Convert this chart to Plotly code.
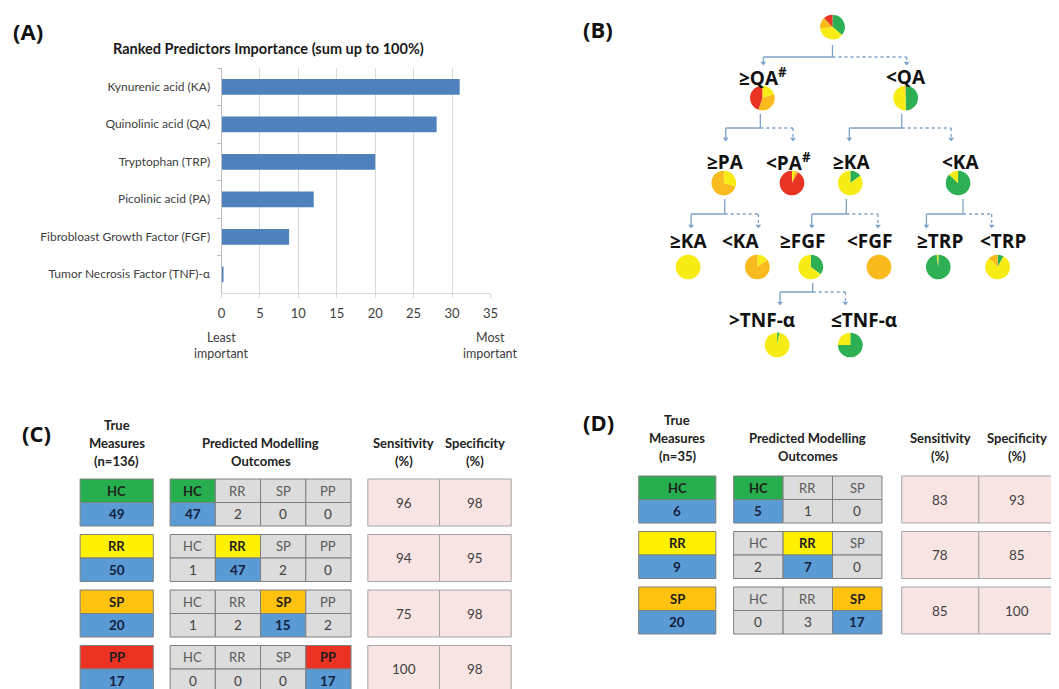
import plotly.graph_objects as go

W, H = 1059, 689

# ---------------- DATA ----------------
predictors = ["Kynurenic acid (KA)", "Quinolinic acid (QA)", "Tryptophan (TRP)",
              "Picolinic acid (PA)", "Fibrobloast Growth Factor (FGF)",
              "Tumor Necrosis Factor (TNF)-α"]
importance = [31, 28, 20, 12, 8.8, 0.2]
x_ticks = [0, 5, 10, 15, 20, 25, 30, 35]

classes = ["HC", "RR", "SP", "PP"]

# tree nodes: label, class fractions (HC, RR, SP, PP)
tree_labels = ["", "≥QA<sup>#</sup>", "<QA", "≥PA", "<PA<sup>#</sup>", "≥KA", "<KA",
               "≥KA", "<KA", "≥FGF", "<FGF", "≥TRP", "<TRP", ">TNF-α", "≤TNF-α"]
tree_fractions = [
    [36, 37, 15, 12],
    [0, 20, 35, 45],
    [50, 48, 2, 0],
    [0, 30, 70, 0],
    [0, 4, 4, 92],
    [15, 85, 0, 0],
    [87, 13, 0, 0],
    [0, 100, 0, 0],
    [0, 15, 85, 0],
    [35, 65, 0, 0],
    [0, 0, 100, 0],
    [98, 2, 0, 0],
    [8, 80, 12, 0],
    [3, 97, 0, 0],
    [75, 25, 0, 0],
]
tree_parent = [None, 0, 0, 1, 1, 2, 2, 3, 3, 5, 5, 6, 6, 9, 9]

c_true = [49, 50, 20, 17]
c_conf = [[47, 2, 0, 0], [1, 47, 2, 0], [1, 2, 15, 2], [0, 0, 0, 17]]
c_sens = [96, 94, 75, 100]
c_spec = [98, 95, 98, 98]
c_n = 136

d_true = [6, 9, 20]
d_conf = [[5, 1, 0], [2, 7, 0], [0, 3, 17]]
d_sens = [83, 78, 85]
d_spec = [93, 85, 100]
d_n = 35

# ---------------- STYLE / LAYOUT ----------------
FONT = "Lato"
class_colors = {"HC": "#27AE4F", "RR": "#FFF100", "SP": "#FFC20E", "PP": "#EC3323"}
pie_colors = ["#2DB053", "#F7EC13", "#F8BA1C", "#E93424"]
BLUE = "#5B9BD5"
GREY = "#DCDCDC"
PINK = "#F9E4E4"
EDGE = "#7F7F7F"
LINK = "#7EA2C9"

# tree layout in pixel space: (label x, label y, pie x, pie y)
node_pos = [
    (None, None, 838, 27),
    (768, 77, 767, 98), (912, 77, 912, 98),
    (730, 162, 728, 183), (793, 162, 797, 183), (857, 162, 856, 183), (967, 162, 965, 183),
    (692, 241, 692, 267), (745, 241, 762, 267), (808, 241, 816, 267), (875, 241, 885, 267),
    (947, 241, 945, 267), (1010, 241, 1005, 267),
    (767, 320, 782, 345), (870, 320, 856, 345),
]
# connectors per parent: stem x, stem top, bar y, drop end y, left drop x, right drop x
connectors = {
    0: (838, 45, 57, 64, 768, 913),
    1: (765, 114, 128, 140, 730, 798),
    2: (908, 114, 128, 140, 855, 958),
    3: (729, 199, 214, 227, 695, 763),
    5: (852, 199, 214, 227, 817, 884),
    6: (970, 199, 214, 227, 933, 999),
    9: (818, 283, 292, 304, 785, 851),
}
PIE_D = 25

fig = go.Figure()

# ---- Panel A: bar chart ----
fig.add_trace(go.Bar(
    x=importance, y=predictors, orientation="h",
    marker=dict(color="#4F81BD", line=dict(width=0)),
    width=0.42, xaxis="x", yaxis="y", showlegend=False, hoverinfo="x+y"))

# ---- Panel B: pies ----
for i, fr in enumerate(tree_fractions):
    _, _, cx, cy = node_pos[i]
    r = PIE_D / 2
    fig.add_trace(go.Pie(
        values=fr, labels=classes, sort=False, direction="clockwise", rotation=0,
        marker=dict(colors=pie_colors, line=dict(width=0)),
        textinfo="none", showlegend=False, hoverinfo="label+percent",
        domain=dict(x=[(cx - r) / W, (cx + r) / W], y=[1 - (cy + r) / H, 1 - (cy - r) / H])))

shapes = []
annotations = []


def px_line(x0, y0, x1, y1, color=LINK, width=1.3, dash="solid"):
    shapes.append(dict(type="line", xref="x2", yref="y2", x0=x0, y0=y0, x1=x1, y1=y1,
                       line=dict(color=color, width=width, dash=dash), layer="above"))


def px_rect(x0, y0, x1, y1, fill, edge=EDGE, width=1):
    shapes.append(dict(type="rect", xref="x2", yref="y2", x0=x0, y0=y0, x1=x1, y1=y1,
                       fillcolor=fill, line=dict(color=edge, width=width), layer="above"))


def px_text(x, y, text, size=12, color="#222222", bold=False, xanchor="center", family=FONT):
    if bold:
        text = "<b>" + text + "</b>"
    annotations.append(dict(xref="x2", yref="y2", x=x, y=y, text=text, showarrow=False,
                            xanchor=xanchor, yanchor="middle",
                            font=dict(family=family, size=size, color=color)))


# tree labels
for i, lab in enumerate(tree_labels):
    lx, ly, _, _ = node_pos[i]
    if lx is not None:
        px_text(lx, ly, lab, size=19, color="#111111", bold=True, family="Open Sans")

# connectors
arrow_x, arrow_y = [], []
for p, (sx, sy0, by, dy, lx, rx) in connectors.items():
    px_line(sx, sy0, sx, by)
    px_line(lx, by, sx, by)
    px_line(sx, by, rx, by, dash="dot")
    px_line(lx, by, lx, dy - 2)
    px_line(rx, by, rx, dy - 2, dash="dot")
    arrow_x += [lx, rx]
    arrow_y += [dy - 1, dy - 1]

fig.add_trace(go.Scatter(x=arrow_x, y=arrow_y, mode="markers", xaxis="x2", yaxis="y2",
                         marker=dict(symbol="triangle-down", size=5, color=LINK),
                         showlegend=False, hoverinfo="skip"))

HEAD = 13


# ---- Panels C & D: confusion tables ----
def draw_table(true_counts, conf, sens, spec, n, org):
    k = len(true_counts)
    tx0, tx1 = org["true_x"]
    px0, pcw = org["pred_x0"], org["pred_w"]
    sx0, sw = org["sens_x0"], org["sens_w"]
    top0, pitch, half = org["top"], org["pitch"], org["half"]
    hy = org["head_y"]
    # headers
    tcx = (tx0 + tx1) / 2
    px_text(tcx, hy - 18, "True", size=HEAD, bold=True)
    px_text(tcx, hy, "Measures", size=HEAD, bold=True)
    px_text(tcx, hy + 18, "(n=%d)" % n, size=HEAD, bold=True)
    pcx = px0 + pcw * k / 2
    px_text(pcx, hy, "Predicted Modelling", size=HEAD, bold=True)
    px_text(pcx, hy + 18, "Outcomes", size=HEAD, bold=True)
    px_text(sx0 + sw / 2, hy, "Sensitivity", size=HEAD, bold=True)
    px_text(sx0 + sw / 2, hy + 18, "(%)", size=HEAD, bold=True)
    px_text(sx0 + sw * 1.5, hy, "Specificity", size=HEAD, bold=True)
    px_text(sx0 + sw * 1.5, hy + 18, "(%)", size=HEAD, bold=True)
    for i in range(k):
        y0 = top0 + i * pitch
        ym, y1 = y0 + half, y0 + 2 * half
        cls = classes[i]
        # true measure box
        px_rect(tx0, y0, tx1, ym, class_colors[cls])
        px_rect(tx0, ym, tx1, y1, BLUE)
        px_text(tcx, (y0 + ym) / 2, cls, size=13, bold=True, color="#1E1E1E")
        px_text(tcx, (ym + y1) / 2, str(true_counts[i]), size=13.5, bold=True, color="#14213D")
        # predicted matrix
        for j in range(k):
            cx0, cx1 = px0 + j * pcw, px0 + (j + 1) * pcw
            diag = (i == j)
            px_rect(cx0, y0, cx1, ym, class_colors[classes[j]] if diag else GREY)
            px_rect(cx0, ym, cx1, y1, BLUE if diag else GREY)
            px_text((cx0 + cx1) / 2, (y0 + ym) / 2, classes[j], size=13, bold=diag,
                    color="#1E1E1E" if diag else "#595959")
            px_text((cx0 + cx1) / 2, (ym + y1) / 2, str(conf[i][j]), size=13.5, bold=diag,
                    color="#14213D" if diag else "#404040")
        # sensitivity / specificity
        px_rect(sx0, y0, sx0 + sw, y1, PINK, edge="#A6A6A6")
        px_rect(sx0 + sw, y0, sx0 + 2 * sw, y1, PINK, edge="#A6A6A6")
        px_text(sx0 + sw / 2, (y0 + y1) / 2, str(sens[i]), size=13.5, color="#404040")
        px_text(sx0 + sw * 1.5, (y0 + y1) / 2, str(spec[i]), size=13.5, color="#404040")


draw_table(c_true, c_conf, c_sens, c_spec, c_n,
           dict(true_x=(77, 151), pred_x0=168, pred_w=45.75, sens_x0=368, sens_w=72.5,
                top=479, pitch=55.5, half=23.5, head_y=443))
draw_table(d_true, d_conf, d_sens, d_spec, d_n,
           dict(true_x=(642, 720), pred_x0=738, pred_w=50, sens_x0=908, sens_w=78,
                top=476, pitch=55.5, half=23.5, head_y=438))

# panel letters
for lab, x, y in [("(A)", 7, 31), ("(B)", 584, 29), ("(C)", 16, 433), ("(D)", 584, 422)]:
    px_text(x, y, lab, size=22, bold=True, xanchor="left", color="#111111", family="Open Sans")

# panel A title and axis captions
px_text(268, 48, "Ranked Predictors Importance (sum up to 100%)", size=14.5, bold=True,
        color="#1a1a1a")
for x, t in [(220, "Least"), (492, "Most")]:
    px_text(x, 337, t, size=12.5, color="#404040")
    px_text(x, 353, "important", size=12.5, color="#404040")

fig.update_layout(
    width=W, height=H, margin=dict(l=0, r=0, t=0, b=0),
    paper_bgcolor="white", plot_bgcolor="rgba(0,0,0,0)",
    font=dict(family=FONT, size=12, color="#404040"),
    xaxis=dict(domain=[220 / W, 492 / W], range=[0, 35], tickvals=x_ticks, anchor="y",
               showgrid=True, gridcolor="#D9D9D9", gridwidth=1, zeroline=False,
               showline=True, linecolor="#D9D9D9", ticks="outside", ticklen=4,
               tickcolor="#D9D9D9", ticklabelstandoff=4,
               tickfont=dict(size=13, color="#404040")),
    yaxis=dict(domain=[1 - 293 / H, 1 - 68 / H], autorange="reversed", anchor="x",
               type="category", showline=True, linecolor="#BFBFBF", ticks="outside",
               tickson="boundaries", ticklen=4, tickcolor="#BFBFBF",
               ticklabelstandoff=8, tickfont=dict(size=12, color="#404040"), showgrid=False),
    xaxis2=dict(domain=[0, 1], range=[0, W], visible=False, anchor="y2", fixedrange=True),
    yaxis2=dict(domain=[0, 1], range=[H, 0], visible=False, anchor="x2", fixedrange=True),
    shapes=shapes, annotations=annotations,
)

fig.write_html("out.html", config={"displayModeBar": False},
               post_script="document.body.style.margin='0px';document.body.style.overflow='hidden';")
